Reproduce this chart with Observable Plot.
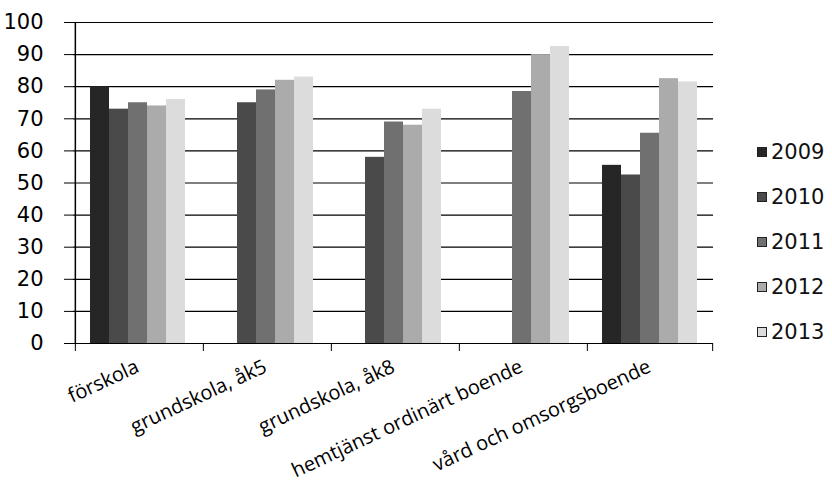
<!DOCTYPE html>
<html><head><meta charset="utf-8">
<script src="https://cdn.jsdelivr.net/npm/d3@7"></script>
<script src="https://cdn.jsdelivr.net/npm/@observablehq/plot@0.6"></script>
<style>
body{margin:0;background:#fff;}
#wrap{position:relative;width:832px;height:488px;font-family:"DejaVu Sans",sans-serif;}
#legend{position:absolute;left:757px;top:129px;}
.item{display:flex;align-items:center;height:45px;font-size:21px;color:#111;}
.sw{width:10px;height:10px;margin-right:4px;box-sizing:border-box;border:1px solid #222;}
</style></head>
<body><div id="wrap"><div id="legend"></div></div>
<script>
const categories = ["förskola", "grundskola, åk5", "grundskola, åk8", "hemtjänst ordinärt boende", "vård och omsorgsboende"];
const years = ["2009", "2010", "2011", "2012", "2013"];
const v2009 = [80, null, null, null, 55.5];
const v2010 = [73, 75, 58, null, 52.5];
const v2011 = [75, 79, 69, 78.5, 65.5];
const v2012 = [74, 82, 68, 90, 82.5];
const v2013 = [76, 83, 73, 92.5, 81.5];
const yTicks = [0, 10, 20, 30, 40, 50, 60, 70, 80, 90, 100];
const colors = ["#262626", "#4a4a4a", "#707070", "#ababab", "#dcdcdc"];

const series = [v2009, v2010, v2011, v2012, v2013];
const data = [];
years.forEach((yr, j) => categories.forEach((c, i) => {
  if (series[j][i] != null) data.push({category: c, year: yr, value: series[j][i]});
}));

const W = 832, H = 488, ML = 72, MR = 119, MT = 22, MB = 145;
const band = (W - ML - MR) / categories.length;
const barW = band / 6.5;
const edge = 0.75 * barW + barW / 2;

const chart = Plot.plot({
  width: W, height: H,
  marginLeft: ML, marginRight: MR, marginTop: MT, marginBottom: MB,
  style: {fontFamily: '"DejaVu Sans", sans-serif', background: "#fff", color: "#000"},
  fx: {domain: categories, padding: 0, label: null, axis: null},
  x: {domain: years, paddingInner: 0, paddingOuter: 0.75, axis: null},
  y: {domain: [0, 100], label: null},
  color: {domain: years, range: colors},
  marks: [
    Plot.gridY(yTicks, {stroke: "#000", strokeOpacity: 1, strokeWidth: 1.2}),
    Plot.barY(data, {fx: "category", x: "year", y: "value", fill: "year"}),
    Plot.ruleX(categories, {fx: d => d, x: () => years[0], dx: -edge, y1: 0, y2: 0, insetBottom: -8, stroke: "#000"}),
    Plot.ruleX([categories[categories.length - 1]], {fx: d => d, x: () => years[years.length - 1], dx: edge, y1: 0, y2: 0, insetBottom: -8, stroke: "#000"}),
    Plot.ruleX([categories[0]], {fx: d => d, x: () => years[0], dx: -edge, y1: 0, y2: 100, stroke: "#000", strokeWidth: 1.5}),
    Plot.axisY(yTicks, {tickSize: 9, tickPadding: 21, fontSize: 21, label: null, stroke: "#000"}),
    Plot.axisFx({anchor: "bottom", tickRotate: -25, tickSize: 0, tickPadding: 22, fontSize: 20, fontFamily: '"Open Sans", sans-serif', fill: "#000", label: null})
  ]
});
document.getElementById("wrap").prepend(chart);

const legend = document.getElementById("legend");
years.forEach((yr, j) => {
  const item = document.createElement("div");
  item.className = "item";
  const sw = document.createElement("span");
  sw.className = "sw";
  sw.style.background = colors[j];
  item.appendChild(sw);
  item.appendChild(document.createTextNode(yr));
  legend.appendChild(item);
});
</script>
</body></html>
